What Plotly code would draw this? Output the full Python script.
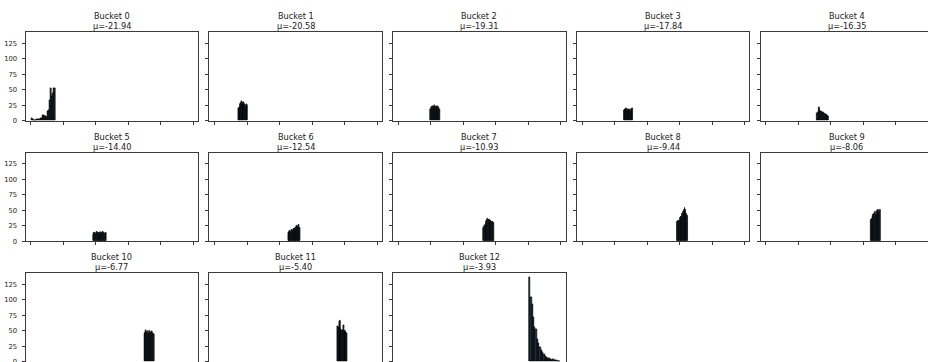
import numpy as np
import plotly.graph_objects as go

# ---------------- data ----------------
bucket_names = [f"Bucket {i}" for i in range(13)]
bucket_means = [-21.94, -20.58, -19.31, -17.84, -16.35, -14.40, -12.54,
                -10.93, -9.44, -8.06, -6.77, -5.40, -3.93]

# histogram range (lower / upper bin edge) of each bucket
bin_lo = [-24.85, -21.34, -20.05, -18.60, -17.20, -15.40, -13.70,
          -11.95, -10.35, -8.88, -7.52, -6.10, -4.88]
bin_hi = [-21.26, -19.89, -18.60, -17.15, -15.30, -13.40, -11.85,
          -10.30, -8.75, -7.34, -6.03, -4.57, -0.10]

counts_0 = [4, 3, 1, 1, 1, 2, 2, 2, 3, 4, 4, 8, 9, 7, 7, 6, 16, 17, 33, 52, 40, 44, 52, 53]
counts_1 = [20, 22, 26, 28, 31, 27, 29, 30, 26, 24, 27, 25]
counts_2 = [18, 22, 24, 21, 23, 25, 22, 24, 20, 23, 21, 19]
counts_3 = [17, 19, 18, 20, 18, 17, 19, 18, 16, 18, 19, 20]
counts_4 = [12, 13, 22, 18, 16, 15, 14, 13, 12, 11, 10, 9, 8, 7]
counts_5 = [11, 13, 14, 12, 15, 13, 14, 12, 15, 14, 13, 15, 14, 12, 13]
counts_6 = [14, 15, 17, 16, 18, 17, 20, 19, 22, 21, 25, 24, 26, 22]
counts_7 = [22, 25, 27, 30, 33, 37, 34, 35, 31, 33, 32, 31, 30]
counts_8 = [32, 33, 33, 38, 39, 40, 44, 47, 50, 54, 51, 44, 41]
counts_9 = [35, 37, 40, 43, 45, 47, 43, 49, 47, 50, 48, 50]
counts_10 = [46, 48, 50, 47, 49, 45, 50, 48, 47, 49, 46, 45]
counts_11 = [57, 55, 66, 67, 52, 50, 51, 59, 49, 50, 48, 46]
counts_12 = [136, 104, 92, 72, 56, 52, 37, 30, 23, 18, 15, 12, 9, 7, 6, 5, 4, 3, 4, 3, 2, 2, 1, 1]

bucket_counts = [counts_0, counts_1, counts_2, counts_3, counts_4, counts_5, counts_6,
                 counts_7, counts_8, counts_9, counts_10, counts_11, counts_12]

x_ticks = [-25, -20, -15, -10, -5, 0]
y_ticks = [0, 25, 50, 75, 100, 125]

# ---------------- layout geometry ----------------
W, H = 928, 362
NR, NC = 3, 5
col_left0, col_pitch, col_w = 25.5, 183.8, 172.5
row_top0, row_pitch, row_h = 32.3, 120.5, 88.4
x_min, px_per_unit = -25.8, 6.5
y_max = 142.8
py_per_unit = row_h / y_max

FILL = "#22394a"
EDGE = "black"
SPINE = "#3a3a3a"
FONT = "DejaVu Sans, Verdana, sans-serif"

fig = go.Figure()
layout = {}
annotations = []

for k in range(NR * NC):
    r, c = divmod(k, NC)
    left = col_left0 + col_pitch * c
    right = min(left + col_w, W)
    top = row_top0 + row_pitch * r
    bottom = min(top + row_h, H)
    x_max = x_min + (right - left) / px_per_unit
    y_min = y_max - (bottom - top) / py_per_unit
    sfx = "" if k == 0 else str(k + 1)
    xa, ya = "x" + sfx, "y" + sfx

    layout["xaxis" + sfx] = dict(
        domain=[left / W, right / W], anchor=ya, range=[x_min, x_max],
        showline=True, mirror=True, linecolor=SPINE, linewidth=1,
        ticks="outside", ticklen=3, tickwidth=0.8, tickcolor=SPINE,
        tickvals=x_ticks, showticklabels=False, automargin=False,
        showgrid=False, zeroline=False, fixedrange=True)
    layout["yaxis" + sfx] = dict(
        domain=[1 - bottom / H, 1 - top / H], anchor=xa, range=[y_min, y_max],
        showline=True, mirror=(c != NC - 1), linecolor=SPINE, linewidth=1,
        ticks="outside", ticklen=3, tickwidth=0.8, tickcolor=SPINE,
        tickvals=y_ticks, showticklabels=(c == 0), automargin=False,
        ticklabelstandoff=3, ticklabeloverflow="allow",
        tickfont=dict(family=FONT, size=6.8, color="#222"),
        showgrid=False, zeroline=False, fixedrange=True)

    if k < len(bucket_counts):
        cnt = bucket_counts[k]
        n = len(cnt)
        edges = np.linspace(bin_lo[k], bin_hi[k], n + 1)
        centers = (edges[:-1] + edges[1:]) / 2
        bw = edges[1] - edges[0]
        fig.add_trace(go.Bar(
            x=centers, y=cnt, width=[bw] * n,
            marker=dict(color=FILL, line=dict(color=EDGE, width=0.7)),
            xaxis=xa, yaxis=ya, hoverinfo="skip", showlegend=False))
        cx = (left + col_w / 2) / W
        annotations.append(dict(
            text=bucket_names[k], x=cx, y=1 - (top - 15.9) / H,
            xref="paper", yref="paper", xanchor="center", yanchor="middle",
            showarrow=False, font=dict(family=FONT, size=8.2, color="#222")))
        annotations.append(dict(
            text=f"μ={bucket_means[k]:.2f}", x=cx, y=1 - (top - 6.3) / H,
            xref="paper", yref="paper", xanchor="center", yanchor="middle",
            showarrow=False, font=dict(family=FONT, size=8.2, color="#222")))

fig.update_layout(
    width=W, height=H,
    margin=dict(l=0, r=0, t=0, b=0, pad=0, autoexpand=False),
    paper_bgcolor="white", plot_bgcolor="white",
    barmode="overlay", bargap=0, showlegend=False,
    annotations=annotations, **layout)

fig.write_html("out.html", config={"displayModeBar": False},
               post_script="document.body.style.margin='0';document.body.style.overflow='hidden';")
